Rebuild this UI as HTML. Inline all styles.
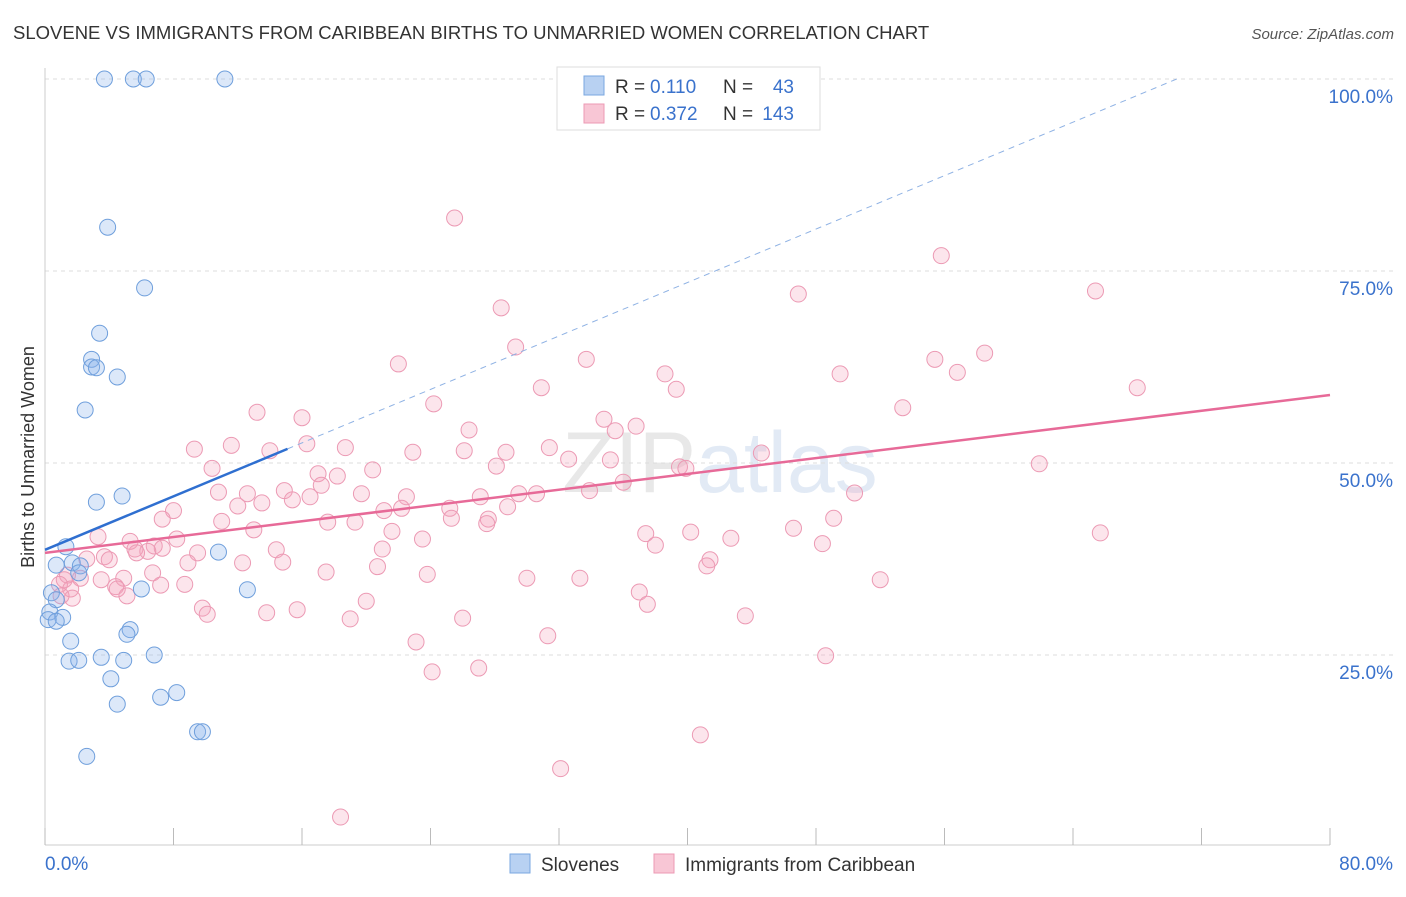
<!DOCTYPE html>
<html><head><meta charset="utf-8">
<style>
html,body{margin:0;padding:0;background:#fff;}
body{width:1406px;height:892px;overflow:hidden;font-family:"Liberation Sans",sans-serif;}
</style></head>
<body>
<svg id="chart" width="1406" height="892" xmlns="http://www.w3.org/2000/svg" font-family="Liberation Sans, sans-serif">
  <text x="13" y="39" font-size="18.5" fill="#333">SLOVENE VS IMMIGRANTS FROM CARIBBEAN BIRTHS TO UNMARRIED WOMEN CORRELATION CHART</text>
  <text x="1394" y="39" font-size="15" fill="#555" font-style="italic" text-anchor="end">Source: ZipAtlas.com</text>
  <text transform="translate(34,457) rotate(-90)" font-size="18" fill="#333" text-anchor="middle">Births to Unmarried Women</text>
  <text x="720" y="492" font-size="86" opacity="0.4" text-anchor="middle"><tspan fill="#c8c8c8">ZIP</tspan><tspan fill="#b8cde8">atlas</tspan></text>
  <g id="grid"></g>
  <g id="marks"></g>
  <g id="lines"></g>
  <g>
    <rect x="557" y="67" width="263" height="63" fill="#fff" stroke="#ddd"/>
    <rect x="584" y="76" width="20" height="19" fill="#b8d1f2" stroke="#7aa7e0"/>
    <rect x="584" y="104" width="20" height="19" fill="#f8c6d5" stroke="#ec9ab4"/>
    <text x="615" y="93" font-size="19" fill="#333">R =</text>
    <text x="650" y="93" font-size="19" fill="#3a72cc">0.110</text>
    <text x="723" y="93" font-size="19" fill="#333">N =</text>
    <text x="794" y="93" font-size="19" fill="#3a72cc" text-anchor="end">43</text>
    <text x="615" y="120" font-size="19" fill="#333">R =</text>
    <text x="650" y="120" font-size="19" fill="#3a72cc">0.372</text>
    <text x="723" y="120" font-size="19" fill="#333">N =</text>
    <text x="794" y="120" font-size="19" fill="#3a72cc" text-anchor="end">143</text>
  </g>
  <g>
    <rect x="510" y="854" width="20" height="19" fill="#b8d1f2" stroke="#7aa7e0"/>
    <text x="541" y="871" font-size="19" fill="#333">Slovenes</text>
    <rect x="654" y="854" width="20" height="19" fill="#f8c6d5" stroke="#ec9ab4"/>
    <text x="685" y="871" font-size="19" fill="#333">Immigrants from Caribbean</text>
  </g>
</svg>
<script>
const blueX=[3.7,5.5,6.3,11.2,3.9,6.2,3.4,2.9,2.9,3.2,4.5,2.5,4.8,3.2,10.8,1.3,0.7,1.7,2.2,2.1,6.0,12.6,0.4,0.7,0.3,1.1,0.2,0.7,5.3,5.1,1.6,6.8,1.5,2.1,3.5,4.9,4.1,8.2,7.2,4.5,9.5,9.8,2.6];
const blueY=[100,100,100,100,80.7,72.8,66.9,63.5,62.5,62.4,61.2,56.9,45.7,44.9,38.4,39.1,36.7,37.0,36.6,35.7,33.6,33.5,33.1,32.2,30.6,29.9,29.6,29.4,28.3,27.7,26.8,25.0,24.2,24.3,24.7,24.3,21.9,20.1,19.5,18.6,15.0,15.0,11.8];
const pinkX=[25.5,55.8,46.9,65.4,28.4,29.3,22.0,33.7,58.5,55.4,38.6,49.5,56.8,30.9,39.3,68.0,24.2,53.4,13.2,16.0,34.8,36.8,26.4,35.5,9.3,11.6,14.0,16.3,18.7,22.9,26.1,28.7,31.4,32.6,35.2,44.6,61.9,10.4,20.4,17.0,18.2,17.2,28.1,39.5,39.9,36.0,10.8,12.6,14.9,19.7,22.5,27.1,29.5,30.6,33.9,50.4,8.0,12.0,13.5,15.4,16.5,22.2,21.1,25.2,11.0,7.3,17.6,19.3,25.3,27.6,27.5,28.8,49.1,3.3,5.3,8.2,6.8,13.0,21.6,23.5,37.4,40.2,42.7,46.6,65.7,7.3,5.6,6.4,9.5,3.7,2.6,5.7,21.0,38.0,48.4,14.4,8.9,12.3,14.8,17.5,20.7,6.7,1.4,1.2,2.2,23.8,30.0,33.3,41.4,41.2,52.0,4.9,3.5,4.4,8.7,0.9,1.6,4.5,5.1,1.7,1.0,37.0,37.5,20.0,9.8,10.1,13.8,15.7,19.0,26.0,43.6,31.3,23.1,48.6,24.1,27.0,40.8,32.1,18.4,4.0,7.2];
const pinkY=[81.9,77.0,72.0,72.4,70.2,65.1,62.9,63.5,64.3,63.5,61.6,61.6,61.8,59.8,59.6,59.8,57.7,57.2,56.6,55.9,55.7,54.8,54.3,54.2,51.8,52.3,51.6,52.5,52.0,51.4,51.6,51.4,52.0,50.5,50.4,51.3,49.9,49.3,49.1,48.6,48.3,47.1,49.6,49.5,49.3,47.5,46.2,46.0,46.4,46.0,45.6,45.6,46.0,46.0,46.4,46.1,43.8,44.4,44.8,45.2,45.6,44.1,43.8,44.1,42.4,42.7,42.3,42.3,42.8,42.7,42.1,44.3,42.8,40.4,39.8,40.1,39.2,41.3,41.1,40.1,40.8,41.0,40.2,41.5,40.9,38.9,38.8,38.5,38.3,37.8,37.5,38.3,38.8,39.3,39.5,38.7,37.0,37.0,37.1,35.8,36.5,35.7,35.4,34.8,35.0,35.5,35.0,35.0,37.4,36.6,34.8,35.0,34.8,33.9,34.2,34.2,33.6,33.6,32.7,32.4,32.7,33.2,31.6,32.0,31.1,30.3,30.5,30.9,29.7,29.8,30.1,27.5,26.7,24.9,22.8,23.3,14.6,10.2,3.9,37.4,34.1];
const blueTrend=[38.7,0.87];   // intercept, slope
const pinkTrend=[38.3,0.257];
const yTicks=[25,50,75,100];
const yTickLabels=["25.0%","50.0%","75.0%","100.0%"];
const xTicks=[0,8,16,24,32,40,48,56,64,72,80];

const NS="http://www.w3.org/2000/svg";
const X0=45,X1=1330,YB=847,YT=79;
function sx(v){return X0+(v/80)*(X1-X0);}
function sy(v){return YB-(v/100)*(YB-YT);}
function mk(tag,attrs,parent){const e=document.createElementNS(NS,tag);for(const k in attrs)e.setAttribute(k,attrs[k]);parent.appendChild(e);return e;}
const grid=document.getElementById('grid'),marks=document.getElementById('marks'),lines=document.getElementById('lines');

yTicks.forEach((t,i)=>{
  const l=mk('line',{x1:X0,x2:1394,y1:sy(t),y2:sy(t),stroke:'#ddd','stroke-dasharray':'4,4'},grid);
  
  
  const tx=mk('text',{x:1393,y:sy(t)+24,'font-size':19,fill:'#3a72cc','text-anchor':'end'},grid);
  tx.textContent=yTickLabels[i];
  
  
});
const ax=mk('line',{x1:X0,x2:X0,y1:68,y2:845,stroke:'#ccc'},grid);


const bx=mk('line',{x1:X0,x2:X1,y1:845,y2:845,stroke:'#ccc'},grid);


xTicks.forEach(t=>{
  const l=mk('line',{x1:sx(t),x2:sx(t),y1:828,y2:845,stroke:'#bbb'},grid);
  
  
});
const xl0=mk('text',{x:45,y:870,'font-size':19,fill:'#3a72cc'},grid);xl0.textContent='0.0%';


const xl1=mk('text',{x:1393,y:870,'font-size':19,fill:'#3a72cc','text-anchor':'end'},grid);xl1.textContent='80.0%';



pinkX.forEach((x,i)=>{
  const c=mk('circle',{cx:sx(x),cy:sy(pinkY[i]),r:8,fill:'rgba(244,160,188,0.28)',stroke:'#ec9ab4','stroke-width':1},marks);
  
  
});
blueX.forEach((x,i)=>{
  const c=mk('circle',{cx:sx(x),cy:sy(blueY[i]),r:8,fill:'rgba(140,180,235,0.3)',stroke:'#6f9fdc','stroke-width':1},marks);
  
  
});
const bEnd=15.1;
const bl=mk('line',{x1:sx(0),y1:sy(blueTrend[0]),x2:sx(bEnd),y2:sy(blueTrend[0]+blueTrend[1]*bEnd),stroke:'#2f6fd0','stroke-width':2.5},lines);


const xEndDash=Math.min((100-blueTrend[0])/blueTrend[1],80);
const bd=mk('line',{x1:sx(bEnd),y1:sy(blueTrend[0]+blueTrend[1]*bEnd),x2:sx(xEndDash),y2:sy(blueTrend[0]+blueTrend[1]*xEndDash),stroke:'#8fb2e4','stroke-width':1,'stroke-dasharray':'6,5'},lines);


const pl=mk('line',{x1:sx(0),y1:sy(pinkTrend[0]),x2:sx(80),y2:sy(pinkTrend[0]+pinkTrend[1]*80),stroke:'#e76a98','stroke-width':2.5},lines);


</script>
</body></html>
